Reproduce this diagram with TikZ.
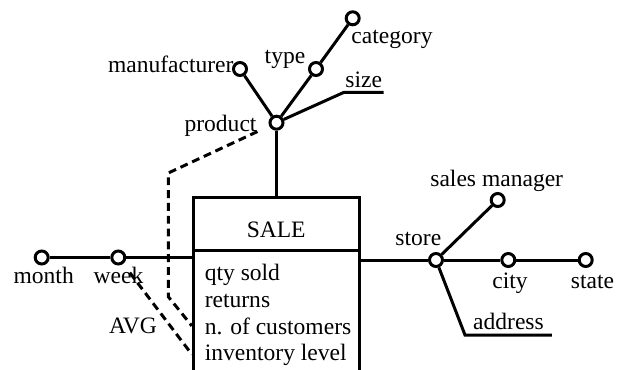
\documentclass[tikz,border=0pt]{standalone}
\usepackage{fontspec}
\setmainfont{Liberation Serif}

\begin{document}
\begin{tikzpicture}[x=0.02cm,y=-0.02cm,line width=1.7pt,
    every node/.style={font=\fontsize{13.4pt}{15.2pt}\selectfont},
    attr/.style={draw,circle,fill=white,inner sep=0pt,minimum size=0.26cm},
    lbl/.style={inner sep=0pt},
    agg/.style={dash pattern=on 4.5pt off 2.8pt}]
    \useasboundingbox (0,0) rectangle (622,369);
    \clip (0,0) rectangle (622,369);

    \node[draw,minimum width=3.314cm,minimum height=1.06cm,text height=0.57cm] (sale) at (276.2,223.7) {SALE};
    \node[draw,minimum width=3.314cm,minimum height=2.6cm] (fact) at (276.2,315) {};
    \foreach \n/\t/\y in {qty/qty sold/280,returns/returns/307.7,customers/n. of customers/334,inventory/inventory level/360}{
        \node[lbl,anchor=base west] (\n) at (203.3,\y) {\t};
    }

    \node[attr] (month) at (41.7,257.5) {};
    \node[attr] (week) at (118.3,257.5) {};
    \node[attr] (product) at (276.5,122.7) {};
    \node[attr] (manufacturer) at (240,69) {};
    \node[attr] (type) at (316,69) {};
    \node[attr] (category) at (352.7,18.3) {};
    \node[attr] (store) at (436,260) {};
    \node[attr] (salesmgr) at (497.7,200) {};
    \node[attr] (city) at (508.3,260) {};
    \node[attr] (state) at (585.7,260) {};

    \node[lbl,anchor=base] (monthlbl) at (43.7,283.3) {month};
    \node[lbl,anchor=base] (weeklbl) at (118.5,283.3) {week};
    \node[lbl,anchor=base east] (productlbl) at (258,131.7) {product};
    \node[lbl,anchor=base east] (manufacturerlbl) at (235,72) {manufacturer};
    \node[lbl,anchor=base] (typelbl) at (285,63.3) {type};
    \node[lbl,anchor=base west] (categorylbl) at (350,43.3) {category};
    \node[lbl,anchor=base east] (storelbl) at (442.7,245) {store};
    \node[lbl,anchor=base] (salesmgrlbl) at (496.7,186.7) {sales manager};
    \node[lbl,anchor=base] (citylbl) at (510,288.3) {city};
    \node[lbl,anchor=base] (statelbl) at (592.5,288.3) {state};
    \node[lbl,anchor=base] (avg) at (133,333) {AVG};
    \node[inner xsep=0pt,inner ysep=1.6pt,anchor=south west] (size) at (344,92.3) {size};
    \node[inner xsep=0pt,inner ysep=1.9pt,minimum width=1.68cm,anchor=south west] (address) at (465,335) {address};

    \draw (month) -- (week);
    \draw (week) -- (week -| fact.west);
    \draw (product) -- (product |- sale.north);
    \draw (product) -- (manufacturer);
    \draw (product) -- (type) -- (category);
    \draw (product) -- (size.south west) -- (size.south east);
    \draw (store) -- (store -| fact.east);
    \draw (store) -- (salesmgr);
    \draw (store) -- (city) -- (state);
    \draw (store) -- (address.south west) -- (address.south east);

    \coordinate (bendtop) at (168.3,173);
    \coordinate (bendbot) at (168.3,296.7);
    \draw[agg,shorten <=0.26cm] (product) -- (bendtop) -- (bendbot) -- (customers -| fact.west);
    \draw[agg,shorten <=0.22cm] (week) -- (inventory -| fact.west);
\end{tikzpicture}
\end{document}
